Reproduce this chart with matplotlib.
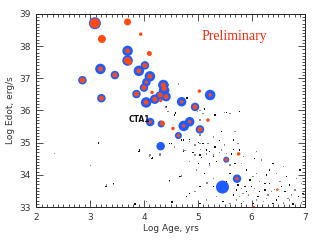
#!/usr/bin/env python3
"""Edot vs characteristic age for pulsars (Preliminary)."""
import matplotlib
matplotlib.use('Agg')
import matplotlib.pyplot as plt
from matplotlib.ticker import MultipleLocator

BLUE = '#1f5cff'
ORANGE = '#ff4a12'
TEXT_COLOR = '#333333'

# big blue circles: log age, log edot, marker diameter (px)
blue_x = [3.087, 3.695, 3.695, 3.19, 4.017, 3.905, 4.11, 3.459, 2.855, 4.045,
          4.0, 3.86, 3.208, 4.04, 4.20, 4.36, 4.375, 4.30, 4.41, 5.23,
          4.70, 4.95, 4.115, 4.32, 4.74, 4.85, 5.04, 4.64, 4.31, 5.53,
          5.73, 5.46]
blue_y = [38.71, 37.85, 37.55, 37.29, 37.40, 37.23, 37.06, 37.10, 36.94, 36.88,
          36.71, 36.51, 36.38, 36.25, 36.35, 36.79, 36.62, 36.45, 36.43, 36.48,
          36.27, 36.11, 35.64, 35.58, 35.52, 35.65, 35.41, 35.22, 34.89, 34.47,
          33.88, 33.62]
blue_d = [12, 10.5, 10.5, 10.5, 8.5, 10.5, 10.5, 8.5, 8.5, 8.5,
          8.5, 8.5, 8.5, 10.5, 9.5, 10.5, 10.5, 9.5, 9.5, 10.5,
          9.5, 8.5, 8.5, 7, 10.5, 9.5, 8.5, 7, 8.5, 6,
          8.5, 13]

# orange dots
orange_x = [3.087, 3.695, 3.94, 3.217, 3.695, 4.10, 3.695, 3.73, 3.19, 4.017,
            3.905, 4.11, 3.459, 2.855, 4.045, 4.0, 3.86, 3.208, 4.04, 4.20,
            4.36, 4.375, 4.30, 4.41, 4.15, 4.31, 5.03, 5.23, 4.70, 4.95,
            5.19, 4.115, 4.34, 4.54, 4.74, 4.85, 5.04, 4.64, 5.53, 5.76,
            5.73, 6.48, 6.04]
orange_y = [38.71, 38.75, 38.37, 38.22, 37.85, 37.77, 37.55, 37.49, 37.29, 37.40,
            37.23, 37.06, 37.10, 36.94, 36.88, 36.71, 36.51, 36.38, 36.25, 36.35,
            36.79, 36.68, 36.48, 36.43, 36.56, 36.31, 36.60, 36.48, 36.27, 36.11,
            35.70, 35.64, 35.60, 35.44, 35.52, 35.65, 35.41, 35.22, 34.47, 34.65,
            33.88, 33.54, 33.00]
orange_d = [10, 7, 3.5, 8, 5, 5, 7, 5, 5, 5,
            5, 5, 5, 5.5, 3.5, 5, 5, 5, 5, 5,
            5, 5, 5, 5, 3.5, 3.5, 3.5, 3.5, 3.5, 5,
            3.5, 3.5, 5, 3.5, 3.5, 3.5, 5, 3.5, 3.5, 3.5,
            3.5, 2.5, 2.5]

# radio pulsar population (small dots)
dot_x = [5.13, 4.99, 5.53, 5.60, 5.78, 5.04, 5.44, 5.69, 4.73, 4.85,
         5.01, 4.95, 5.10, 5.29, 5.41, 5.50, 5.66, 5.75, 5.32, 5.05,
         5.22, 5.44, 5.66, 4.76, 4.91, 5.53, 5.78, 5.19,
         4.73, 4.95, 5.07, 5.16, 5.29, 5.41, 5.63, 4.85, 5.01, 5.22,
         5.35, 5.60, 5.69, 4.70, 5.13, 5.29, 5.60, 5.66, 5.75, 5.81,
         5.72, 5.84, 5.66, 5.78, 5.29, 4.95, 4.79, 5.16, 5.47, 5.60,
         5.04, 5.35, 5.81, 5.72, 5.53,
         5.85, 6.06, 6.19, 6.40, 6.59, 5.91, 6.09, 6.28, 6.46, 6.65,
         6.84, 5.97, 6.15, 6.34, 6.53, 6.71, 6.93, 5.88, 6.06, 6.25,
         6.43, 6.62, 6.81, 6.96, 5.94, 6.12, 6.31, 6.50, 6.68, 6.87,
         5.85, 6.03, 6.22, 6.40, 6.59, 6.77, 6.93, 6.00, 6.37, 6.56,
         6.74, 6.15, 6.28, 5.91, 6.71, 6.46, 6.09, 6.25, 6.03, 6.34,
         5.81, 6.90, 6.09,
         4.48, 4.57, 4.70, 3.92, 4.11, 4.30, 4.15, 4.70, 4.47, 4.05,
         4.52, 3.83, 4.00,
         2.33, 3.15, 3.01, 3.29, 3.43, 3.83, 4.05, 3.91, 4.10, 4.16,
         4.64, 4.80, 5.04, 5.13, 5.50, 4.43, 4.41, 4.59, 4.46,
         4.42, 4.45, 4.57, 5.10, 5.32, 5.04, 4.85, 5.04, 5.16, 4.73,
         4.51, 4.30, 5.04, 5.29, 5.22, 4.98, 4.67, 4.48, 5.04, 5.17,
         4.85, 3.30, 3.43, 4.11, 3.92]
dot_y = [36.03, 35.96, 35.93, 35.91, 35.96, 35.70, 35.34, 35.34, 35.08, 35.03,
         35.00, 34.93, 34.98, 35.18, 35.06, 34.93, 35.08, 34.98, 34.87, 34.79,
         34.72, 34.77, 34.79, 34.75, 34.69, 34.67, 34.77, 34.98,
         34.72, 34.61, 34.54, 34.65, 34.56, 34.69, 34.65, 34.41, 34.36, 34.30,
         34.41, 34.30, 34.36, 33.96, 34.05, 33.89, 34.05, 33.89, 33.68, 33.58,
         33.53, 33.42, 33.37, 33.32, 33.63, 33.48, 33.32, 33.22, 33.17, 33.11,
         33.11, 33.32, 33.11, 33.22, 33.79,
         34.56, 34.51, 34.46, 34.36, 34.25, 34.15, 34.05, 33.99, 34.05, 33.94,
         33.89, 33.84, 33.79, 33.73, 33.79, 33.68, 33.73, 33.63, 33.58, 33.53,
         33.55, 33.48, 33.53, 33.42, 33.37, 33.32, 33.37, 33.32, 33.27, 33.32,
         33.17, 33.11, 33.17, 33.11, 33.13, 33.09, 33.13, 33.63, 33.48, 33.63,
         33.37, 33.48, 33.27, 33.48, 33.22, 33.22, 33.22, 33.73, 33.94, 34.15,
         34.36, 34.15, 34.72,
         34.98, 34.87, 35.08, 34.72, 34.61, 34.65, 34.51, 33.94, 33.82, 33.17,
         33.15, 33.09, 32.99,
         34.66, 34.99, 34.29, 33.64, 33.69, 33.09, 33.18, 34.73, 34.59, 34.52,
         36.82, 36.39, 35.99, 36.04, 35.93, 36.43, 36.11, 35.92, 36.79,
         36.12, 35.96, 35.86, 35.91, 35.86, 35.24, 35.10, 34.98, 34.77, 34.77,
         34.98, 34.61, 34.61, 34.61, 34.36, 34.15, 33.94, 33.79, 33.63, 33.74,
         33.42, 33.68, 33.73, 34.61, 34.77]

fig = plt.figure(figsize=(3.17, 2.46), dpi=100)
fig.patch.set_facecolor('white')
ax = fig.add_axes([0.115, 0.1585, 0.848, 0.785])

dot_colors = ['#111111' if i % 2 == 0 else '#8a8a8a' for i in range(len(dot_x))]
ax.scatter(dot_x, dot_y, s=1.0, c=dot_colors, marker='s', linewidths=0, zorder=1)

ax.scatter(blue_x, blue_y, s=[(d * 0.72) ** 2 for d in blue_d], c=BLUE,
           linewidths=0, zorder=2)
ax.scatter(orange_x, orange_y, s=[(d * 0.72) ** 2 for d in orange_d], c=ORANGE,
           linewidths=0, zorder=3)

ax.text(3.72, 35.72, 'CTA1', fontsize=5.5, color='#111111', va='center', ha='left',
        fontweight='bold', zorder=4)
ax.text(5.69, 38.31, 'Preliminary', fontsize=10, color='#ff2a10', ha='center',
        va='center', family='Liberation Serif')

ax.set_xlim(2, 7)
ax.set_ylim(33, 39)
ax.xaxis.set_major_locator(MultipleLocator(1))
ax.xaxis.set_minor_locator(MultipleLocator(0.1))
ax.yaxis.set_major_locator(MultipleLocator(1))
ax.yaxis.set_minor_locator(MultipleLocator(0.1))
ax.tick_params(which='both', direction='in', top=True, right=True,
               colors='#333333', labelsize=6.5, width=0.6, pad=4)
ax.tick_params(which='major', length=5)
ax.tick_params(which='minor', length=2.2)
for sp in ax.spines.values():
    sp.set_color('#222222')
    sp.set_linewidth(0.7)

ax.set_xlabel('Log Age, yrs', fontsize=6.5, color=TEXT_COLOR, labelpad=2)
ax.set_ylabel('Log Edot, erg/s', fontsize=6.5, color=TEXT_COLOR, labelpad=3)

fig.savefig('out.png', dpi=100, facecolor='white')
